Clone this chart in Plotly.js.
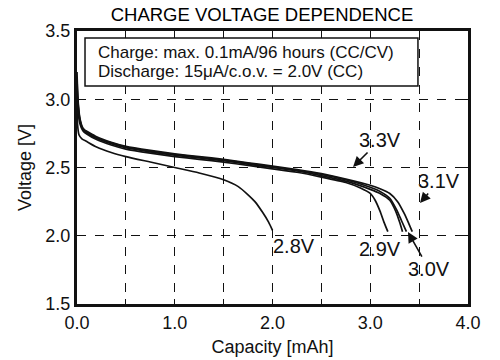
<!DOCTYPE html>
<html>
<head>
<meta charset="utf-8">
<script src="https://cdn.plot.ly/plotly-3.0.1.min.js"></script>
<style>html,body{margin:0;padding:0;background:#fff;}#chart{width:500px;height:360px;}</style>
</head>
<body>
<div id="chart"></div>
<script>
// Capacity [mAh] and voltage [V] readings for each charge voltage
const cap28 = [0, 0.005, 0.02, 0.05, 0.1, 0.2, 0.35, 0.5, 0.75, 1.0, 1.25, 1.5, 1.65, 1.75, 1.82, 1.9, 1.96, 2.0];
const volt28 = [2.95, 2.82, 2.74, 2.71, 2.69, 2.65, 2.61, 2.58, 2.54, 2.50, 2.46, 2.41, 2.36, 2.30, 2.25, 2.17, 2.10, 2.04];

const cap29 = [0, 0.01, 0.03, 0.06, 0.1, 0.2, 0.35, 0.5, 0.75, 1.0, 1.25, 1.5, 1.75, 2.0, 2.25, 2.5, 2.75, 2.9, 3.0, 3.05, 3.1, 3.14, 3.18];
const volt29 = [3.05, 2.92, 2.82, 2.77, 2.745, 2.705, 2.665, 2.635, 2.605, 2.58, 2.56, 2.54, 2.515, 2.49, 2.465, 2.43, 2.39, 2.35, 2.31, 2.26, 2.18, 2.10, 2.03];

const cap30 = [0, 0.01, 0.03, 0.06, 0.1, 0.2, 0.35, 0.5, 0.75, 1.0, 1.25, 1.5, 1.75, 2.0, 2.25, 2.5, 2.75, 3.0, 3.1, 3.2, 3.28, 3.35, 3.4, 3.43];
const volt30 = [3.1, 2.96, 2.84, 2.78, 2.765, 2.725, 2.685, 2.655, 2.625, 2.60, 2.58, 2.56, 2.535, 2.51, 2.485, 2.455, 2.415, 2.37, 2.345, 2.31, 2.25, 2.16, 2.08, 2.03];

const cap31 = [0, 0.01, 0.03, 0.06, 0.1, 0.2, 0.35, 0.5, 0.75, 1.0, 1.25, 1.5, 1.75, 2.0, 2.25, 2.5, 2.75, 3.0, 3.1, 3.2, 3.26, 3.3, 3.33];
const volt31 = [3.15, 2.98, 2.85, 2.78, 2.755, 2.715, 2.675, 2.645, 2.615, 2.59, 2.57, 2.55, 2.525, 2.50, 2.475, 2.44, 2.40, 2.34, 2.31, 2.26, 2.18, 2.10, 2.03];

const cap33 = [0, 0.01, 0.03, 0.06, 0.1, 0.2, 0.35, 0.5, 0.75, 1.0, 1.25, 1.5, 1.75, 2.0, 2.25, 2.5, 2.75, 3.0, 3.1, 3.2, 3.27, 3.32, 3.37];
const volt33 = [3.2, 3.0, 2.86, 2.79, 2.76, 2.72, 2.68, 2.65, 2.62, 2.595, 2.575, 2.555, 2.53, 2.505, 2.48, 2.45, 2.41, 2.355, 2.325, 2.275, 2.19, 2.11, 2.03];

const xTicks = [0, 1, 2, 3, 4];
const xTickText = ["0.0", "1.0", "2.0", "3.0", "4.0"];
const yTicks = [1.5, 2.0, 2.5, 3.0, 3.5];
const yTickText = ["1.5", "2.0", "2.5", "3.0", "3.5"];

const seriesNames = ["2.8V", "2.9V", "3.0V", "3.1V", "3.3V"];
const seriesX = [cap28, cap29, cap30, cap31, cap33];
const seriesY = [volt28, volt29, volt30, volt31, volt33];

const FONT = "Arial, 'Liberation Sans', sans-serif";

const traces = seriesNames.map((n, i) => ({
  type: "scatter", mode: "lines", name: n,
  x: seriesX[i], y: seriesY[i],
  line: {color: "#111", width: 1.7, shape: "spline", smoothing: 0.6},
  hoverinfo: "skip"
}));

const axisCommon = {
  showline: true, linecolor: "#111", linewidth: 3, mirror: "ticks",
  ticks: "inside", ticklen: 5, tickcolor: "#111", tickwidth: 1,
  showgrid: true, gridcolor: "#111", gridwidth: 1, griddash: "dash",
  zeroline: false, tickfont: {family: FONT, size: 18, color: "#111"},
  fixedrange: true
};

const layout = {
  width: 500, height: 360,
  margin: {l: 77, r: 32, t: 31, b: 56},
  paper_bgcolor: "#fff", plot_bgcolor: "#fff",
  showlegend: false,
  font: {family: FONT, color: "#111"},
  title: {text: "CHARGE VOLTAGE DEPENDENCE", font: {family: FONT, size: 18.5, color: "#000"},
          x: 0.524, xanchor: "center", y: 0.961, yanchor: "middle"},
  xaxis: Object.assign({}, axisCommon, {
    range: [0, 4], tickmode: "array", tickvals: xTicks, ticktext: xTickText,
    minor: {dtick: 0.5, showgrid: true, gridcolor: "#111", gridwidth: 1, griddash: "dash", ticks: "inside", ticklen: 5, tickcolor: "#111"},
    title: {text: "Capacity [mAh]", font: {family: FONT, size: 18, color: "#111"}, standoff: 9}
  }),
  yaxis: Object.assign({}, axisCommon, {
    range: [1.5, 3.5], tickmode: "array", tickvals: yTicks, ticktext: yTickText,
    title: {text: "Voltage [V]", font: {family: FONT, size: 18, color: "#111"}, standoff: 10}
  }),
  shapes: [{
    type: "rect", xref: "paper", yref: "paper", layer: "above",
    x0: 0.0205, x1: 0.872, y0: 0.7985, y1: 0.974,
    fillcolor: "#fff", line: {color: "#111", width: 1.5}
  }],
  annotations: [
    {xref: "paper", yref: "paper", x: 0.0486, y: 0.923, xanchor: "left", yanchor: "middle", showarrow: false,
     text: "Charge: max. 0.1mA/96 hours (CC/CV)", font: {family: FONT, size: 17, color: "#111"}},
    {xref: "paper", yref: "paper", x: 0.0486, y: 0.850, xanchor: "left", yanchor: "middle", showarrow: false,
     text: "Discharge: 15μA/c.o.v. = 2.0V (CC)", font: {family: FONT, size: 17, color: "#111"}},
    {x: 2.824, y: 2.504, text: "3.3V", showarrow: true, ax: 27, ay: -27, arrowhead: 2, arrowsize: 1.3, arrowwidth: 1.6, arrowcolor: "#111", standoff: 0,
     font: {family: FONT, size: 20, color: "#111"}},
    {x: 3.509, y: 2.240, text: "3.1V", showarrow: true, ax: 19, ay: -22, arrowhead: 2, arrowsize: 1.3, arrowwidth: 1.6, arrowcolor: "#111", standoff: 0,
     font: {family: FONT, size: 20, color: "#111"}},
    {x: 3.386, y: 2.027, text: "3.0V", showarrow: true, ax: 21, ay: 37, arrowhead: 2, arrowsize: 1.3, arrowwidth: 1.6, arrowcolor: "#111", standoff: 0,
     font: {family: FONT, size: 20, color: "#111"}},
    {x: 2.22, y: 1.925, text: "2.8V", showarrow: false, font: {family: FONT, size: 20, color: "#111"}},
    {x: 3.10, y: 1.905, text: "2.9V", showarrow: false, font: {family: FONT, size: 20, color: "#111"}}
  ]
};

Plotly.newPlot("chart", traces, layout, {staticPlot: true, displayModeBar: false});
</script>
</body>
</html>
